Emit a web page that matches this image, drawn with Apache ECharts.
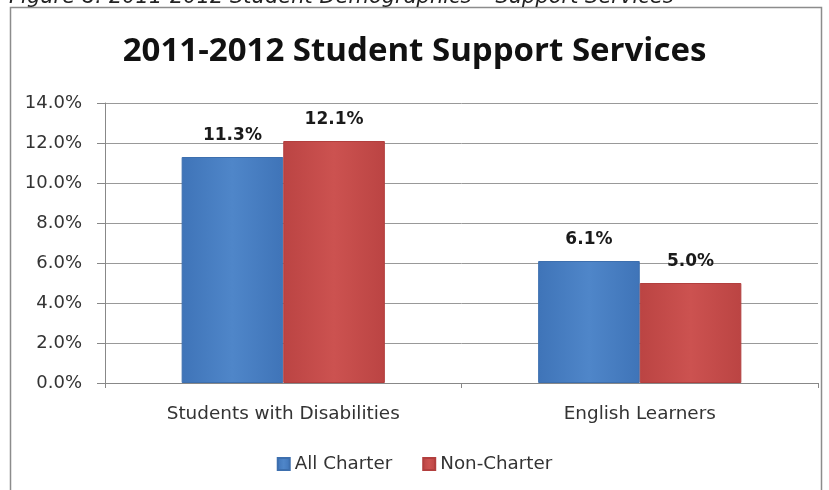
<!DOCTYPE html>
<html>
<head>
<meta charset="utf-8">
<script src="https://cdn.jsdelivr.net/npm/echarts@6/dist/echarts.min.js"></script>
<style>
  html, body { margin: 0; padding: 0; background: #ffffff; }
  #chart { width: 829px; height: 490px; }
</style>
</head>
<body>
<div id="chart"></div>
<script>
// Student support services, 2011-2012
const categories = ['Students with Disabilities', 'English Learners'];
const allCharter = [11.3, 6.1];
const nonCharter = [12.1, 5.0];
const seriesNames = ['All Charter', 'Non-Charter'];

const FONT = '"DejaVu Sans", "Noto Sans", sans-serif';
const TITLE_FONT = '"Open Sans", "Noto Sans", sans-serif';

function barGradient(light, dark) {
  return new echarts.graphic.LinearGradient(0, 0, 1, 0, [
    { offset: 0, color: dark },
    { offset: 0.5, color: light },
    { offset: 1, color: dark }
  ]);
}

const chart = echarts.init(document.getElementById('chart'), null, { renderer: 'canvas' });

const labelStyle = {
  show: true,
  position: 'top',
  distance: 13,
  color: '#1a1a1a',
  fontFamily: FONT,
  fontWeight: 'bold',
  fontSize: 17,
  formatter: p => p.value.toFixed(1) + '%'
};

chart.setOption({
  backgroundColor: '#ffffff',
  animation: false,
  graphic: [
    {
      type: 'rect',
      shape: { x: 10.5, y: 7.5, width: 811, height: 500 },
      style: { fill: 'none', stroke: '#8c8c8c', lineWidth: 1.5 },
      z: 0
    },
    {
      type: 'text',
      left: 9,
      top: -13,
      style: {
        text: 'Figure 8: 2011-2012 Student Demographics \u2013 Support Services',
        fontFamily: FONT,
        fontStyle: 'italic',
        fontSize: 21,
        fill: '#222222'
      }
    }
  ],
  title: {
    text: '2011-2012 Student Support Services',
    left: 'center',
    top: 30,
    textStyle: {
      fontFamily: TITLE_FONT,
      fontWeight: 'bold',
      fontSize: 33,
      color: '#111111'
    }
  },
  legend: {
    bottom: 12,
    left: 'center',
    itemWidth: 12,
    itemHeight: 12,
    itemGap: 30,
    icon: 'rect',
    textStyle: { fontFamily: FONT, fontSize: 18.3, color: '#333333' },
    data: seriesNames
  },
  grid: { left: 105, right: 11, top: 103, bottom: 107 },
  xAxis: {
    type: 'category',
    data: categories,
    axisLine: { lineStyle: { color: '#888888', width: 1 } },
    axisTick: { show: true, length: 5, lineStyle: { color: '#888888' } },
    axisLabel: { fontFamily: FONT, fontSize: 18.4, color: '#333333', margin: 22 }
  },
  yAxis: {
    type: 'value',
    min: 0,
    max: 14,
    interval: 2,
    axisLine: { show: true, lineStyle: { color: '#888888' } },
    axisTick: { show: true, length: 8, lineStyle: { color: '#888888' } },
    splitLine: { show: true, lineStyle: { color: '#999999', width: 1 } },
    axisLabel: {
      fontFamily: FONT,
      fontSize: 18,
      color: '#333333',
      margin: 23,
      formatter: v => v.toFixed(1) + '%'
    }
  },
  series: [
    {
      name: seriesNames[0],
      type: 'bar',
      data: allCharter,
      barGap: '0%',
      barCategoryGap: '43%',
      itemStyle: {
        color: barGradient('#4f86c9', '#3f74b8'),
        borderColor: '#3d6fae',
        borderWidth: 1
      },
      label: labelStyle
    },
    {
      name: seriesNames[1],
      type: 'bar',
      data: nonCharter,
      itemStyle: {
        color: barGradient('#cc5250', '#bb4443'),
        borderColor: '#b23f3e',
        borderWidth: 1
      },
      label: labelStyle
    }
  ]
});
</script>
</body>
</html>
